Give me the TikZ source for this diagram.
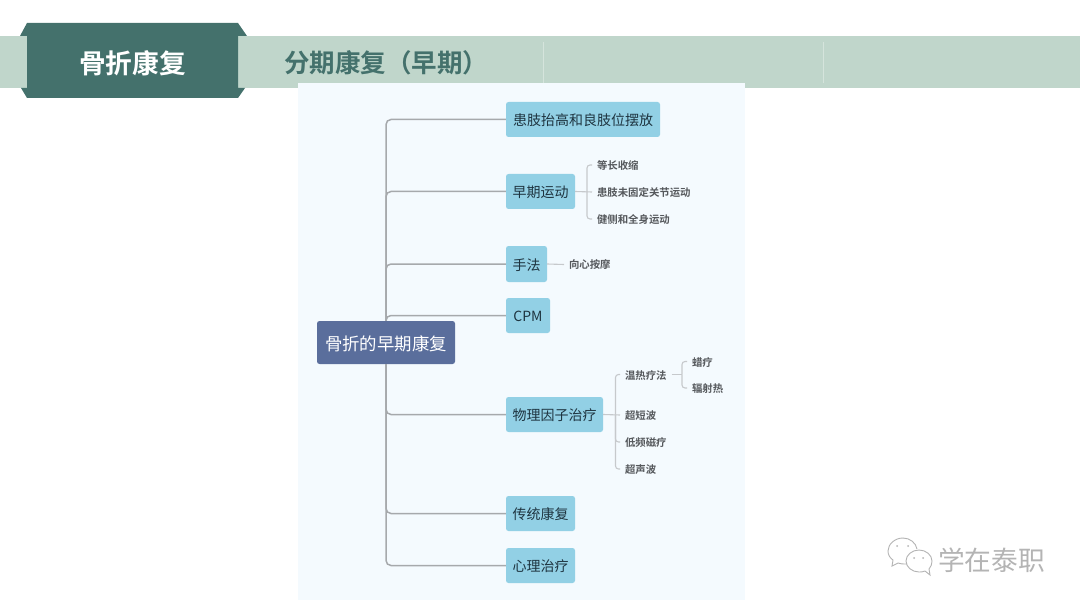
\documentclass[tikz,border=0pt]{standalone}
\usepackage{fontspec}
\setmainfont{Noto Sans CJK SC}[BoldFont={Noto Sans CJK SC Bold}]
\definecolor{band}{HTML}{C0D6CB}
\definecolor{dark}{HTML}{44716C}
\definecolor{sepl}{HTML}{D5E4DC}
\definecolor{panel}{HTML}{F4FAFE}
\definecolor{boxc}{HTML}{92D0E5}
\definecolor{rootc}{HTML}{5A6E9C}
\definecolor{mainl}{HTML}{A6A9AC}
\definecolor{subl}{HTML}{C6C9CC}
\definecolor{boxt}{HTML}{1E3440}
\definecolor{leaft}{HTML}{55585C}
\definecolor{wmgray}{HTML}{B4B4B4}
\newcommand{\fs}[1]{\fontsize{#1}{#1}\selectfont}
\tikzset{
  x=1pt,y=-1pt,
  boxn/.style={fill=boxc,rounded corners=2.5pt,inner sep=0,text=boxt,font=\fs{14},text height=12pt,text depth=0pt},
  rootn/.style={fill=rootc,rounded corners=2.5pt,inner sep=0,text=white,font=\fs{17.4},minimum width=138pt,minimum height=43pt,text height=15pt,text depth=0pt},
  leafn/.style={anchor=west,inner sep=0,outer sep=5pt,text=leaft,font=\fs{10.4}\bfseries,text height=9pt,text depth=0pt},
  conn/.style={draw=mainl,line width=1.5pt,rounded corners=5pt},
  subc/.style={draw=subl,line width=1.1pt,rounded corners=3pt},
}
\begin{document}
\begin{tikzpicture}
\useasboundingbox (0,0) rectangle (1080,607);
\fill[white] (0,0) rectangle (1080,607);
% header
\fill[band] (0,36) rectangle (1080,88);
\draw[sepl,line width=1pt] (543,42) -- (543,83) (823,42) -- (823,83);
\fill[dark] (27,23) -- (238,23) -- (247,36) -- (238,36) -- (238,88) -- (245,88) -- (238,98) -- (27,98) -- (21,88) -- (27,88) -- (27,36) -- (20,36) -- cycle;
\node[text=white,font=\fs{26.7}\bfseries,inner sep=0] (title) at (132.5,63) {骨折康复};
\node[text=dark,font=\fs{25.5}\bfseries,inner sep=0,anchor=west] (sub) at (284,63) {分期康复（早期）};
% panel
\fill[panel] (298,83) rectangle (745,600);
% nodes
\node[rootn] (root) at (386,342.5) {骨折的早期康复};
\node[boxn,minimum width=154pt,minimum height=35pt] (a) at (583,119.5) {患肢抬高和良肢位摆放};
\node[boxn,minimum width=69pt,minimum height=35pt] (b) at (540.5,191.5) {早期运动};
\node[boxn,minimum width=41pt,minimum height=36pt] (c) at (526.5,264) {手法};
\node[boxn,minimum width=44pt,minimum height=35pt] (d) at (528,315.5) {CPM};
\node[boxn,minimum width=97pt,minimum height=35pt] (e) at (554.5,414.5) {物理因子治疗};
\node[boxn,minimum width=69pt,minimum height=35pt] (f) at (540.5,513.5) {传统康复};
\node[boxn,minimum width=69pt,minimum height=35pt] (g) at (540.5,565.5) {心理治疗};
\node[leafn] (b1) at (592,165) {等长收缩};
\node[leafn] (b2) at (592,192) {患肢未固定关节运动};
\node[leafn] (b3) at (592,219) {健侧和全身运动};
\node[leafn] (c1) at (564,264.5) {向心按摩};
\node[leafn] (e1) at (620,374.5) {温热疗法};
\node[leafn] (e2) at (620,415) {超短波};
\node[leafn] (e3) at (620,442) {低频磁疗};
\node[leafn] (e4) at (620,469) {超声波};
\node[leafn] (h1) at (687,361.5) {蜡疗};
\node[leafn] (h2) at (687,388) {辐射热};
% main connectors
\foreach \t in {a,b,c,d}{\draw[conn] (root.north) |- (\t.west);}
\foreach \t in {e,f,g}{\draw[conn] (root.south) |- (\t.west);}
% sub connectors
\coordinate (bj) at (587,192);
\coordinate (ej) at (615.5,414.5);
\coordinate (hj) at (682,374.5);
\draw[subc] (b.east) -- (b2.west);
\draw[subc] (bj) |- (b1.west);
\draw[subc] (bj) |- (b3.west);
\draw[subc] (c.east) -- (c1.west);
\draw[subc] (e.east) -- (e2.west);
\draw[subc] (ej) |- (e1.west);
\draw[subc] (ej) |- (e3.west);
\draw[subc] (ej) |- (e4.west);
\draw[subc] (e1.east) -- (hj);
\draw[subc] (hj) |- (h1.west);
\draw[subc] (hj) |- (h2.west);
% watermark
\begin{scope}[draw=wmgray,line width=0.9pt]
\draw (903,538) .. controls (895,538) and (888,544) .. (888,551) .. controls (888,555) and (890,558) .. (893,560) -- (892,566) -- (898,563) .. controls (900,564) and (903,564) .. (907,564);
\draw (903,538) .. controls (910,538) and (916,543) .. (917,549);
\draw (919,550) .. controls (912,550) and (906,555) .. (906,561) .. controls (906,567) and (912,572) .. (919,572) .. controls (921,572) and (923,572) .. (925,571) -- (930,575) -- (929,569) .. controls (931,567) and (932,564) .. (932,561) .. controls (932,555) and (926,550) .. (919,550);
\end{scope}
\fill[wmgray] (897,546) circle (1pt) (908,546) circle (1pt) (914,558) circle (1pt) (923,558) circle (1pt);
\node[text=wmgray,font=\fs{26.7},inner sep=0,anchor=west] (wm) at (938,560) {学在泰职};
\end{tikzpicture}
\end{document}
